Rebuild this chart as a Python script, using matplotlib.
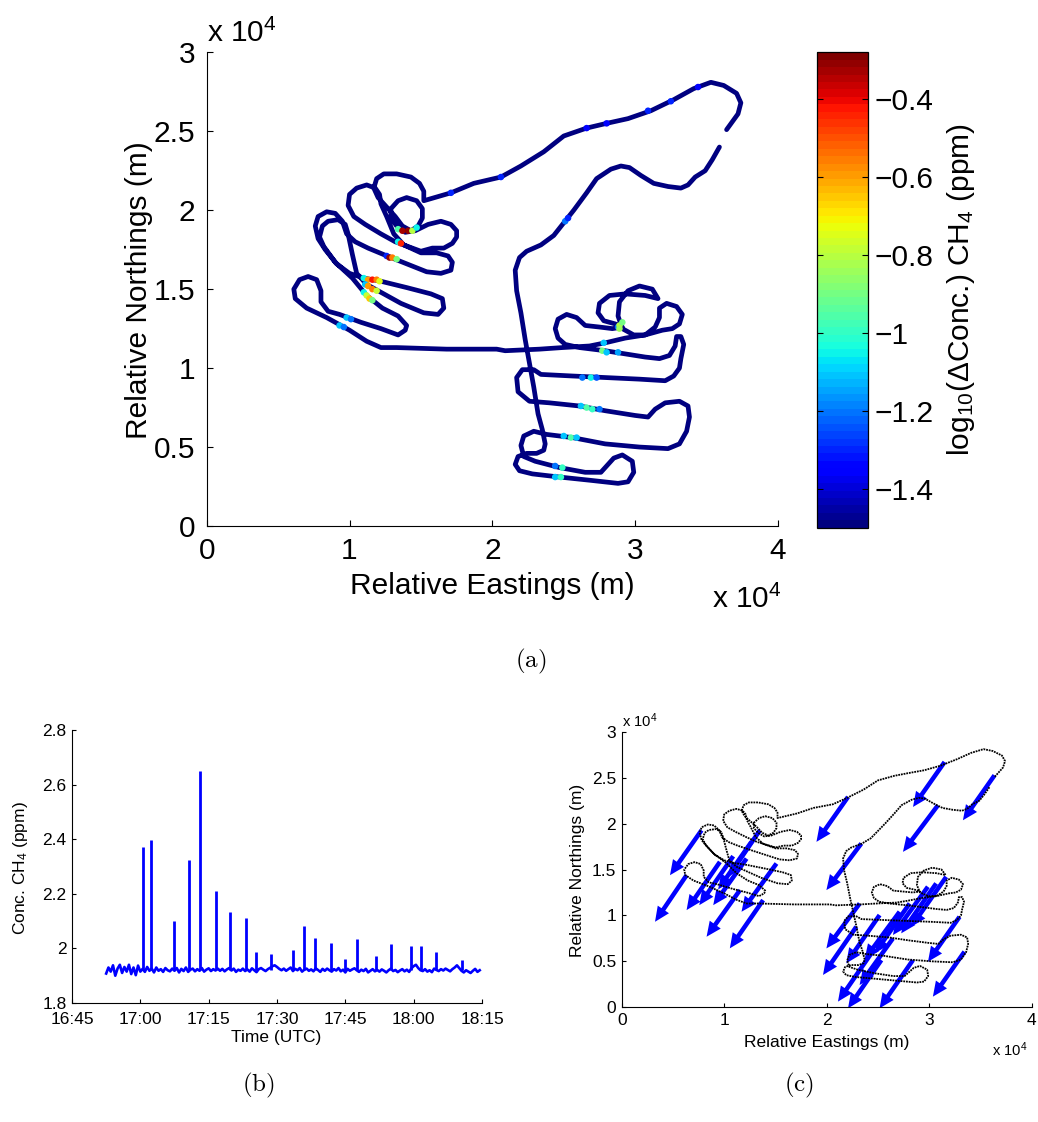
import numpy as np
import matplotlib
matplotlib.use('Agg')
import matplotlib.pyplot as plt

plt.rcParams['font.family'] = ['Liberation Sans', 'DejaVu Sans']
plt.rcParams['mathtext.fontset'] = 'custom'
plt.rcParams['mathtext.rm'] = 'Liberation Sans'
plt.rcParams['mathtext.it'] = 'Liberation Sans:italic'
plt.rcParams['mathtext.bf'] = 'Liberation Sans:bold'

# ---------------------------------------------------------------- data
# Flight track, relative eastings / northings (m)
track_east_m = [
    36400, 36800, 37200, 37400, 37100, 36200, 35300, 34100, 32700, 31100,
    29500, 28000, 26600, 25000, 23600, 22000, 20600, 18700, 17100, 15200,
    15200, 14900, 14300, 13300, 12400, 11900, 11700, 12000, 12600, 13200, 13700, 14300,
    14800, 15100, 15100, 14700, 14000, 13400, 12900, 12900, 13300, 13900, 14600,
    15500, 16400, 17100, 17500, 17500, 17200, 16600, 15800, 15000, 14100, 13200,
    12200, 11100, 10300, 9900, 10000, 10500, 11200, 11800, 12100, 12200,
    12600, 13100, 13800, 15000, 16100, 16900, 17200, 17100, 16400, 15400, 14000,
    12900, 11300, 10400, 9800, 9500, 9000, 8400, 7800, 7600, 7800, 8300,
    9100, 10000, 11000, 12200, 14000, 15700, 16500, 16600, 16200, 15200, 13600,
    12200, 11200, 10500, 10200, 9900, 9700, 9200, 8500, 8100, 7900, 8200,
    9000, 10200, 11200, 12300, 13400, 14000, 13900, 13400, 12200, 10800, 9300,
    8500, 8000, 8000, 7700, 7100, 6500, 6100, 6200, 7000, 8400, 10000,
    11200, 12200, 13300, 16800, 20300,
    20900, 23300, 24900, 26800, 27900, 29300, 30700, 31900, 32600,
    33100, 33300, 32900, 32200, 31700, 31700,
    31400, 30700, 29900, 29100, 28800, 28900, 29500, 30300, 31200, 31600,
    30700, 29300, 28200, 27500, 27400, 27800, 28600, 29100, 28400, 27500, 26500,
    25900, 25200, 24600, 24400, 24600, 25100, 26100,
    27900, 29300, 30700, 31700, 32400, 32800, 32900, 33200, 33400, 33200, 33100, 32700, 32100,
    30300, 27900, 25600, 23400, 22900, 22100, 21700, 21800, 22600,
    24000, 26100, 27900, 30000, 30900, 31400, 32100, 33100, 33700, 33800, 33600, 33100, 32300,
    30300, 27900, 25600, 23800, 22900, 22200, 22000, 22200,
    23000, 24700, 26500, 27600, 28000, 28500, 29100, 29800, 29900, 29500, 28800,
    26800, 24700, 22800, 21900, 21600, 21800, 22400, 23100, 23600, 23700,
    23500, 23200, 22900, 22600, 22300, 22000, 21700,
    21600, 21900, 22400, 23400, 24300, 25000, 25700, 26600, 27300, 28300, 29000,
    29600, 30400, 31300, 32300, 33200, 33700, 34200, 34900, 35400, 35900]
track_north_m = [
    25100, 25600, 26100, 26800, 27400, 27900, 28100, 27700, 27000, 26300,
    25800, 25500, 25200, 24700, 23700, 22800, 22100, 21700, 21100, 20600,
    21200, 21700, 22100, 22300, 22300, 22000, 21400, 20800, 20200, 19600, 19000, 18700,
    19000, 19500, 20100, 20600, 20800, 20600, 20100, 19500, 19000, 18600, 18700,
    19100, 19300, 19100, 18700, 18300, 17900, 17600, 17600, 17400, 17700, 18000,
    18500, 19100, 19600, 20300, 21000, 21400, 21600, 21400, 21000, 20400,
    19600, 18500, 17800, 17300, 17300, 17100, 16700, 16200, 16000, 16100, 16600,
    17000, 17600, 18000, 18500, 19300, 19800, 19900, 19600, 19000, 18200, 17500,
    16600, 16000, 15700, 15500, 15100, 14700, 14400, 13800, 13400, 13500, 14100,
    14800, 15300, 16000, 17200, 18500, 19100, 19400, 19300, 19000, 18300, 17700,
    16700, 15700, 14600, 13800, 13300, 12700, 12400, 12100, 12500, 12900, 13400,
    13600, 14200, 14900, 15600, 15800, 15600, 15000, 14400, 13800, 13200, 12400,
    11700, 11300, 11300, 11200, 11200,
    11100, 11200, 11300, 11400, 11600, 11900, 12100, 12400, 12500,
    12800, 13400, 13900, 14100, 13800, 13200,
    12600, 12100, 12100, 12500, 13300, 14200, 14900, 15200, 15000, 14400,
    14600, 14700, 14600, 14100, 13500, 13000, 12800, 12600, 12500, 12600, 12700,
    13200, 13400, 13100, 12500, 11900, 11500, 11300,
    11100, 10900, 10700, 10600, 10800, 11400, 12000, 12000, 11500, 10600, 10000, 9500, 9200,
    9300, 9400, 9500, 9600, 9900, 9900, 9400, 8500, 7900,
    7800, 7600, 7300, 7000, 6900, 7400, 7800, 7900, 7600, 6900, 6000, 5200, 4900,
    5000, 5200, 5600, 5800, 6000, 5700, 5100, 4400,
    4100, 3700, 3400, 3400, 3800, 4300, 4500, 4100, 3400, 2800, 2700,
    2900, 3100, 3300, 3500, 3900, 4400, 4600, 4600, 4800, 5200,
    6100, 7100, 8800, 10300, 11800, 13500, 14900,
    16200, 17000, 17400, 17800, 18400, 19200, 20000, 21100, 22000, 22600, 22800,
    22700, 22200, 21700, 21500, 21400, 21600, 22100, 22500, 23200, 24000]
# background level of the track (below the colour range)
track_background_log = -1.5

# Samples with a CH4 enhancement: position (m) and log10(dConc) (ppm)
plume_east_m = [13400, 13700, 14100, 14400, 14700, 13400, 13600, 12600, 12800, 13000,
                13300, 11000, 11300, 11600, 11900, 12100, 11100, 11300, 11600, 11900,
                11000, 11200, 11400, 11600, 9800, 10100, 9300, 9600, 28800, 28900,
                29100, 28900, 27800, 27700, 28000, 28800, 26300, 26900, 27300, 26200,
                26600, 27000, 27500, 25000, 25500, 25900, 24400, 24900, 24400, 24800,
                20600, 17100, 26600, 28000, 30900, 32500, 34400, 25100, 25300]
plume_north_m = [18800, 18700, 18700, 18700, 18900, 18000, 17900, 17100, 17000, 17000,
                 16900, 15700, 15600, 15600, 15600, 15500, 15300, 15200, 15000, 14900,
                 14800, 14600, 14400, 14300, 13200, 13100, 12700, 12600, 12600, 12700,
                 12900, 12500, 11600, 11100, 11000, 11000, 9400, 9400, 9400, 7600,
                 7500, 7400, 7400, 5700, 5600, 5600, 3800, 3700, 3100, 3100,
                 22100, 21100, 25200, 25500, 26300, 26900, 27800, 19300, 19500]
plume_log_dconc = [-0.95, -0.32, -0.30, -0.80, -1.05, -1.05, -0.45, -1.30, -0.30, -0.55,
                   -0.90, -1.05, -0.60, -0.42, -0.55, -0.75, -1.10, -0.60, -0.55, -0.78,
                   -1.05, -0.78, -0.65, -0.90, -1.10, -1.20, -1.10, -1.20, -1.20, -0.80,
                   -0.90, -0.85, -1.10, -0.90, -1.10, -1.15, -1.20, -1.05, -1.25, -1.10,
                   -0.95, -1.00, -1.20, -1.10, -0.95, -1.10, -1.20, -1.00, -1.10, -1.00,
                   -1.30, -1.30, -1.35, -1.35, -1.30, -1.30, -1.35, -1.20, -1.30]
clim_log = (-1.5, -0.28)
cbar_ticks = [-1.4, -1.2, -1.0, -0.8, -0.6, -0.4]
cbar_tick_labels = ['\u22121.4', '\u22121.2', '\u22121', '\u22120.8', '\u22120.6', '\u22120.4']

# Wind vectors (km): origin and components
wind_e_km = [31.50, 36.37, 22.08, 30.85, 23.38, 7.79, 6.33, 9.58, 10.88, 11.53, 13.80, 15.10,
             13.48, 12.66, 12.18, 23.22, 22.89, 24.35, 25.33, 26.46, 28.09, 28.41, 30.68,
             32.96, 33.44, 31.66, 29.87, 25.16, 27.11]
wind_n_km = [26.70, 25.25, 22.90, 21.99, 17.83, 19.27, 14.38, 15.83, 16.45, 12.75, 11.67, 15.65,
             19.27, 18.01, 16.19, 11.30, 8.77, 5.87, 5.14, 7.50, 11.30, 5.14, 13.48, 9.85,
             6.05, 14.20, 13.12, 10.04, 10.40]
wind_u_km = [-3.08, -3.08, -3.08, -3.41, -3.41, -3.08, -3.08, -3.25, -3.31, -3.25, -3.25, -3.41,
             -3.08, -3.25, -3.25, -3.25, -3.25, -3.25, -3.25, -3.25, -3.41, -3.25, -3.41,
             -3.08, -3.08, -3.41, -3.41, -3.25, -3.41]
wind_v_km = [-4.89, -4.89, -4.89, -5.07, -5.07, -4.89, -5.07, -5.25, -5.33, -5.07, -5.25, -5.25,
             -5.07, -5.18, -5.07, -4.89, -5.25, -5.25, -5.25, -5.07, -5.43, -5.25, -5.43,
             -4.89, -4.89, -5.43, -5.25, -5.25, -5.18]

# CH4 record: background sampled every 0.5 min from 16:52:30, plus plume peaks
t_start_min = 7.5
sample_step_min = 0.5
ch4_base = [1.908, 1.930, 1.915, 1.938, 1.900, 1.926, 1.940, 1.910, 1.932, 1.915,
            1.940, 1.906, 1.930, 1.902, 1.937, 1.915, 1.925, 1.914, 1.932, 1.918,
            1.926, 1.912, 1.930, 1.918, 1.924, 1.914, 1.928, 1.920, 1.916, 1.926,
            1.918, 1.928, 1.912, 1.925, 1.917, 1.930, 1.914, 1.922, 1.926, 1.916,
            1.924, 1.918, 1.928, 1.915, 1.922, 1.927, 1.917, 1.924, 1.919, 1.926,
            1.918, 1.925, 1.916, 1.923, 1.928, 1.919, 1.926, 1.914, 1.922, 1.918,
            1.926, 1.917, 1.923, 1.915, 1.927, 1.920, 1.913, 1.924, 1.928, 1.922,
            1.917, 1.924, 1.929, 1.935, 1.938, 1.932, 1.925, 1.920, 1.926, 1.918,
            1.924, 1.930, 1.917, 1.925, 1.920, 1.928, 1.915, 1.922, 1.926, 1.918,
            1.923, 1.916, 1.927, 1.921, 1.914, 1.925, 1.918, 1.926, 1.920, 1.915,
            1.924, 1.919, 1.928, 1.916, 1.922, 1.912, 1.925, 1.918, 1.923, 1.927,
            1.920, 1.914, 1.922, 1.917, 1.925, 1.912, 1.918, 1.924, 1.916, 1.921,
            1.915, 1.923, 1.918, 1.912, 1.920, 1.926, 1.917, 1.921, 1.913, 1.919,
            1.924, 1.916, 1.922, 1.914, 1.927, 1.935, 1.940, 1.928, 1.920, 1.917,
            1.924, 1.915, 1.920, 1.913, 1.926, 1.921, 1.917, 1.924, 1.919, 1.926,
            1.921, 1.916, 1.924, 1.930, 1.938, 1.928, 1.918, 1.912, 1.920, 1.915,
            1.910, 1.918, 1.925, 1.914, 1.920]
peak_time_min = [15.6, 17.3, 22.4, 25.6, 28.2, 31.5, 34.6, 38.1, 40.4, 43.6, 48.6,
                 50.9, 53.4, 56.9, 60.0, 62.5, 66.7, 70.0, 74.5, 76.6, 79.8, 85.5]
peak_ppm = [2.373, 2.398, 2.099, 2.322, 2.650, 2.212, 2.133, 2.113, 1.987, 1.978, 1.993,
            2.082, 2.038, 2.020, 1.961, 2.034, 1.973, 2.017, 2.007, 2.007, 1.985, 1.959]
peak_floor_ppm = 1.92
time_ticks_min = [0, 15, 30, 45, 60, 75, 90]
time_tick_labels = ['16:45', '17:00', '17:15', '17:30', '17:45', '18:00', '18:15']
ch4_ticks = [1.8, 2.0, 2.2, 2.4, 2.6, 2.8]
ch4_tick_labels = ['1.8', '2', '2.2', '2.4', '2.6', '2.8']

map_xticks = [0, 10000, 20000, 30000, 40000]
map_xtick_labels = ['0', '1', '2', '3', '4']
map_yticks = [0, 5000, 10000, 15000, 20000, 25000, 30000]
map_ytick_labels = ['0', '0.5', '1', '1.5', '2', '2.5', '3']

# ---------------------------------------------------------------- figure
W, H = 1038, 1122
fig = plt.figure(figsize=(W / 100, H / 100), dpi=100)
cmap = plt.get_cmap('jet', 64)
norm = plt.Normalize(*clim_log)
BIG, SMALL = 21.5, 12.5


def px_axes(left, top, right, bottom):
    return fig.add_axes([left / W, 1 - bottom / H, (right - left) / W, (bottom - top) / H])


def frame(ax, size, ticklen, pad, xpad=None):
    for s in ['top', 'right']:
        ax.spines[s].set_visible(False)
    for s in ['left', 'bottom']:
        ax.spines[s].set_linewidth(0.8)
    ax.tick_params(direction='in', length=ticklen, width=0.8, labelsize=size, pad=pad)
    if xpad is not None:
        ax.tick_params(axis='x', pad=xpad)


def map_ticks(ax):
    ax.set_xlim(0, 40000)
    ax.set_ylim(0, 30000)
    ax.set_xticks(map_xticks)
    ax.set_xticklabels(map_xtick_labels)
    ax.set_yticks(map_yticks)
    ax.set_yticklabels(map_ytick_labels)


# (a) track coloured by CH4 enhancement
axa = px_axes(206.7, 52.3, 778.0, 526.0)
axa.plot(track_east_m, track_north_m, color=cmap(norm(track_background_log)), lw=3.4,
         solid_capstyle='round', solid_joinstyle='round')
sc = axa.scatter(plume_east_m, plume_north_m, c=plume_log_dconc, cmap=cmap, norm=norm,
                 s=22, linewidths=0, zorder=3)
map_ticks(axa)
frame(axa, BIG, 4.3, 8)
axa.set_xlabel('Relative Eastings (m)', fontsize=BIG, va='center')
axa.xaxis.set_label_coords(0.4994, -0.1267)
axa.set_ylabel('Relative Northings (m)', fontsize=BIG, va='center')
axa.yaxis.set_label_coords(-0.1185, 0.498)
fig.text(207 / W, 1 - 42 / H, 'x 10$^4$', fontsize=BIG, va='baseline', ha='left')
fig.text(712 / W, 1 - 608 / H, 'x 10$^4$', fontsize=BIG, va='baseline', ha='left')

cax = px_axes(816.7, 52.3, 867.7, 527.7)
cb = fig.colorbar(sc, cax=cax)
cb.set_ticks(cbar_ticks)
cb.set_ticklabels(cbar_tick_labels)
cax.tick_params(direction='in', length=4.3, width=0.8, left=True, right=True,
                labelsize=BIG, pad=5)
cb.outline.set_linewidth(0.9)
cb.set_label('log$_{10}$(\u0394Conc.) CH$_4$ (ppm)', fontsize=BIG, labelpad=8)

# (b) CH4 time series
axb = px_axes(72, 730, 482, 1003)
t_base = t_start_min + sample_step_min * np.arange(len(ch4_base))
axb.vlines(peak_time_min, peak_floor_ppm, peak_ppm, color='blue', lw=2.0)
axb.plot(t_base, ch4_base, color='blue', lw=1.9)
axb.set_xlim(0, 90)
axb.set_ylim(1.8, 2.8)
axb.set_xticks(time_ticks_min)
axb.set_xticklabels(time_tick_labels)
axb.set_yticks(ch4_ticks)
axb.set_yticklabels(ch4_tick_labels)
frame(axb, SMALL, 2.9, 4, xpad=6.5)
axb.set_xlabel('Time (UTC)', fontsize=SMALL, va='center')
axb.xaxis.set_label_coords(0.499, -0.126)
axb.set_ylabel('Conc. CH$_4$ (ppm)', fontsize=SMALL, va='center')
axb.yaxis.set_label_coords(-0.1268, 0.494)

# (c) track with wind vectors
axc = px_axes(621.7, 731.7, 1031.7, 1007.3)
axc.quiver(np.array(wind_e_km) * 1000, np.array(wind_n_km) * 1000,
           np.array(wind_u_km) * 1000, np.array(wind_v_km) * 1000,
           angles='xy', scale_units='xy', scale=1, color='blue',
           width=0.011, headwidth=3.0, headlength=3.3, headaxislength=3.3, zorder=2)
axc.plot(track_east_m, track_north_m, color='k', lw=1.3, ls=(0, (1, 0.5)), zorder=3)
map_ticks(axc)
frame(axc, SMALL, 2.9, 4)
axc.set_xlabel('Relative Eastings (m)', fontsize=SMALL, va='center')
axc.xaxis.set_label_coords(0.5, -0.1295)
axc.set_ylabel('Relative Northings (m)', fontsize=SMALL, va='center')
axc.yaxis.set_label_coords(-0.108, 0.498)
fig.text(622 / W, 1 - 727 / H, 'x 10$^4$', fontsize=SMALL * 0.85, va='baseline', ha='left')
fig.text(992 / W, 1 - 1056 / H, 'x 10$^4$', fontsize=SMALL * 0.85, va='baseline', ha='left')

for lab, x, y in [('(a)', 531, 661), ('(b)', 258, 1085), ('(c)', 799, 1085)]:
    fig.text(x / W, 1 - y / H, r'$\mathrm{' + lab + '}$', fontsize=18, ha='center',
             va='center', math_fontfamily='cm')

fig.savefig('out.png', dpi=100)
